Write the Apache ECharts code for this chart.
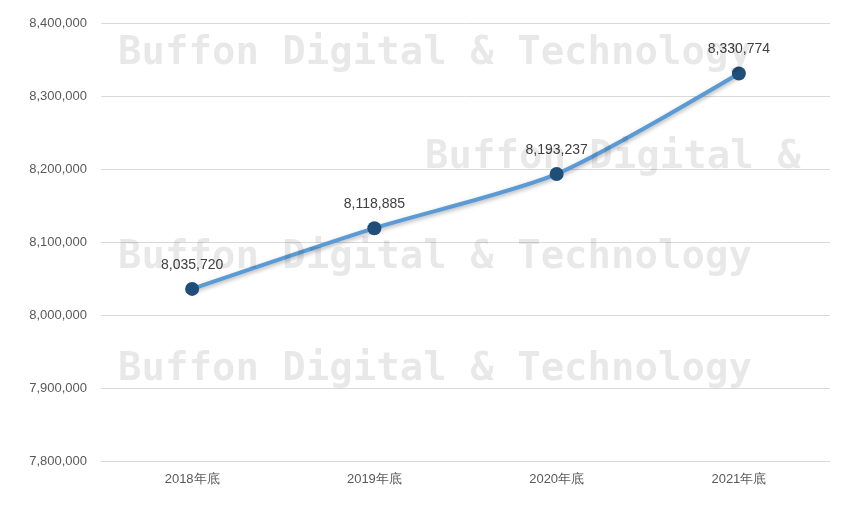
<!DOCTYPE html>
<html>
<head>
<meta charset="utf-8">
<script src="https://cdn.jsdelivr.net/npm/echarts@6/dist/echarts.min.js"></script>
<style>html,body{margin:0;padding:0;background:#fff}#chart{width:853px;height:511px}</style>
</head>
<body>
<div id="chart"></div>
<script>
const categories = ['2018年底', '2019年底', '2020年底', '2021年底'];
const values = [8035720, 8118885, 8193237, 8330774];
const watermark = 'Buffon Digital & Technology';

const chart = echarts.init(document.getElementById('chart'));
const wmStyle = (x, y, text) => ({
    type: 'text', left: x, top: y, z: 10, silent: true,
    style: { text: text, fill: 'rgba(0,0,0,0.09)', font: 'bold 39px "DejaVu Sans Mono", monospace' }
});
chart.setOption({
    animation: false,
    grid: { left: 101, right: 23, top: 23, bottom: 50 },
    xAxis: {
        type: 'category',
        data: categories,
        axisLine: { lineStyle: { color: '#d9d9d9' } },
        axisTick: { show: false },
        axisLabel: { color: '#595959', fontSize: 13, margin: 12 }
    },
    yAxis: {
        type: 'value',
        min: 7800000,
        max: 8400000,
        interval: 100000,
        axisLabel: {
            color: '#595959', fontSize: 13, margin: 14,
            formatter: v => v.toLocaleString('en-US')
        },
        splitLine: { lineStyle: { color: '#d9d9d9' } }
    },
    series: [{
        type: 'line',
        data: values,
        smooth: 0.25,
        symbol: 'circle',
        symbolSize: 14,
        lineStyle: { color: '#5b9bd5', width: 4, shadowColor: 'rgba(0,0,0,0.3)', shadowBlur: 4, shadowOffsetY: 2 },
        itemStyle: { color: '#1f4e79' },
        label: {
            show: true, position: 'top', distance: 10,
            color: '#404040', fontSize: 14,
            formatter: p => p.value.toLocaleString('en-US')
        }
    }],
    graphic: [
        wmStyle(118, 34, watermark),
        wmStyle(425, 138, 'Buffon Digital &'),
        wmStyle(118, 238, watermark),
        wmStyle(118, 350, watermark)
    ]
});
</script>
</body>
</html>
